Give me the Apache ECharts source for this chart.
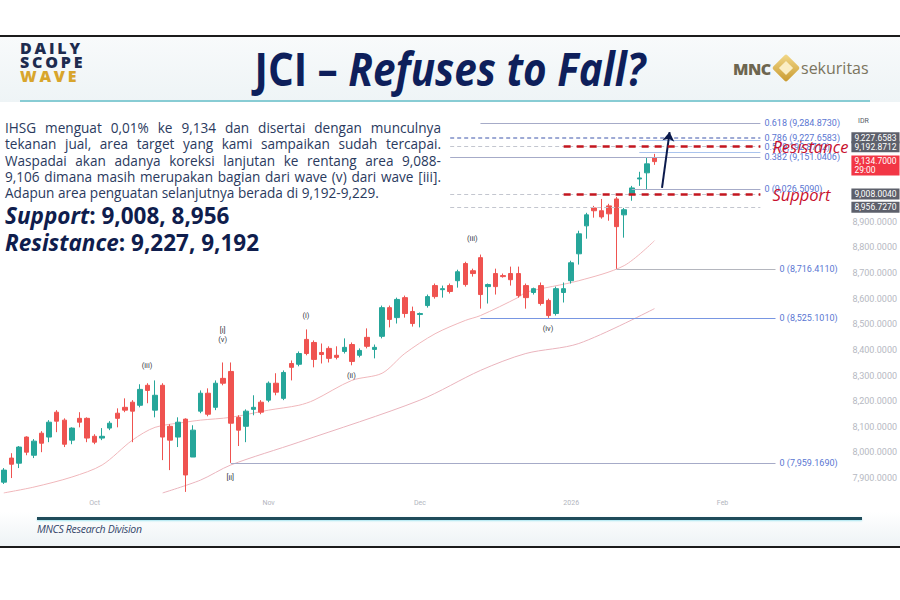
<!DOCTYPE html>
<html>
<head>
<meta charset="utf-8">
<script src="https://cdn.jsdelivr.net/npm/echarts@6/dist/echarts.min.js"></script>
<style>
  body { margin: 0; background: #fff; }
  #slide { position: relative; width: 900px; height: 600px; overflow: hidden; font-family: 'Open Sans', sans-serif; }
  .abs { position: absolute; }
  #chart { left: 0; top: 0; width: 900px; height: 600px; z-index: 2; }
  .ov { z-index: 3; pointer-events: none; }
  .para { left: 5px; width: 436px; font-size: 13.6px; line-height: 16.3px; height: 16.3px; color: #2a3a5e; white-space: nowrap; }
  .just { text-align: justify; text-align-last: justify; white-space: normal; }
  .big { left: 5px; font-size: 22.5px; font-weight: 700; color: #0f1d4d; line-height: 26px; white-space: nowrap; }
  .logo { left: 20px; font-weight: 800; font-size: 16px; letter-spacing: 2.8px; line-height: 14px; }
</style>
</head>
<body>
<div id="slide">
  <div class="abs" style="left:0;top:35px;width:900px;height:2px;background:#1b1b1b"></div>
  <div class="abs" style="left:0;top:37px;width:900px;height:65px;background:linear-gradient(#f8fafb,#eef4f6)"></div>
  <div class="abs" style="left:20px;top:100px;width:850px;height:2px;background:#88ccd4"></div>
  <div class="abs" style="left:0;top:512px;width:900px;height:34px;background:linear-gradient(#ffffff,#eef3f5)"></div>
  <div class="abs" style="left:37px;top:517px;width:825px;height:3px;background:#1f4b5a;box-shadow:0 1px 2px #a6e6f0"></div>
  <div class="abs" style="left:0;top:546px;width:900px;height:2px;background:#1b1b1b"></div>

  <div id="chart" class="abs"></div>

  <div class="abs logo ov" style="top:41px;color:#1d2b4f">DAILY</div>
  <div class="abs logo ov" style="top:55px;color:#1d2b4f">SCOPE</div>
  <div class="abs logo ov" style="top:69px;color:#d8a52c">WAVE</div>

  <div class="abs ov" style="left:0;top:45px;width:900px;text-align:center">
    <span id="title" style="display:inline-block;font-weight:700;font-size:47px;line-height:47px;color:#0e1f5b;white-space:nowrap;transform-origin:center">JCI – <i>Refuses to Fall?</i></span>
  </div>

  <div class="abs ov" style="left:733px;top:58px;font-weight:800;font-size:16px;color:#6d6650;letter-spacing:-0.5px">MNC</div>
  <div class="abs ov" style="left:776px;top:58px;width:20px;height:20px;transform:rotate(45deg);background:linear-gradient(135deg,#f3d98a,#c8992e);border-radius:2px"></div>
  <div class="abs ov" style="left:781px;top:63px;width:10px;height:10px;transform:rotate(45deg);background:#fbeec4"></div>
  <div class="abs ov" style="left:801px;top:57px;font-size:16px;color:#7b745e">sekuritas</div>

  <div class="abs para just ov" style="top:120px">IHSG menguat 0,01% ke 9,134 dan disertai dengan munculnya</div>
  <div class="abs para just ov" style="top:136.3px">tekanan jual, area target yang kami sampaikan sudah tercapai.</div>
  <div class="abs para just ov" style="top:152.6px">Waspadai akan adanya koreksi lanjutan ke rentang area 9,088-</div>
  <div class="abs para just ov" style="top:168.9px">9,106 dimana masih merupakan bagian dari wave (v) dari wave [iii].</div>
  <div class="abs para ov" style="top:185.2px">Adapun area penguatan selanjutnya berada di 9,192-9,229.</div>

  <div class="abs big ov" style="top:203px"><i>Support</i>: 9,008, 8,956</div>
  <div class="abs big ov" style="top:229.5px"><i>Resistance</i>: 9,227, 9,192</div>

  <div class="abs ov" style="left:37px;top:522px;font-size:10.5px;font-style:italic;color:#34466a;letter-spacing:-0.3px">MNCS Research Division</div>
</div>

<script>
// daily candles, mid Sep 2025 -> mid Jan 2026
const opens = [7884,7978,7958,8060,7989,8075,8060,8157,8126,8048,
  8133,8133,8063,8056,8095,8153,8176,8196,8184,8262,
  8165,8262,8102,8060,8130,7982,8161,8231,8176,8289,
  8316,8137,8102,8168,8196,8204,8270,8211,8347,8344,
  8441,8429,8390,8406,8379,8394,8421,8379,8449,8402,
  8453,8565,8526,8604,8550,8538,8573,8651,8635,8651,
  8670,8737,8709,8760,8647,8698,8690,8698,8698,8651,
  8624,8651,8593,8542,8624,8670,8775,8884,8954,8943,
  8962,8989,8927,9009,9067,9091,9149];
const closes = [7931,7954,8021,8001,8044,8036,8118,8122,8032,8095,
  8118,8056,8040,8063,8114,8133,8165,8161,8246,8242,
  8223,8060,8048,8118,7912,8087,8231,8149,8270,8270,
  8114,8087,8161,8176,8157,8270,8235,8312,8332,8386,
  8386,8363,8382,8367,8371,8410,8355,8398,8414,8410,
  8565,8519,8597,8542,8503,8542,8608,8608,8639,8628,
  8705,8655,8698,8616,8655,8647,8686,8674,8612,8604,
  8639,8581,8534,8639,8639,8740,8853,8927,8943,8919,
  8931,8881,8947,9032,9071,9126,9134.7];
const lows = [7877,7900,7939,7989,7978,8001,8040,8079,8021,8032,
  8098,8040,8032,8048,8087,8098,8157,8040,8176,8192,
  8137,7970,7931,8021,7846,7982,8153,8141,8165,8262,
  7959.169,8025,8040,8145,8149,8196,8223,8204,8281,8336,
  8379,8332,8347,8351,8363,8386,8340,8371,8406,8367,
  8445,8488,8503,8526,8491,8488,8565,8600,8604,8620,
  8643,8647,8686,8561,8581,8616,8682,8651,8604,8561,
  8616,8573,8525.101,8534,8585,8659,8733,8834,8916,8912,
  8904,8716.411,8838,8982,9040,9024,9122];
const highs = [7939,7997,8025,8063,8052,8083,8126,8165,8133,8098,
  8157,8137,8071,8095,8122,8172,8211,8204,8266,8270,
  8281,8270,8110,8137,8133,8106,8242,8250,8281,8351,
  8351,8145,8168,8223,8204,8277,8309,8320,8359,8394,
  8480,8437,8425,8414,8414,8445,8429,8406,8484,8421,
  8573,8573,8604,8612,8569,8546,8616,8659,8651,8659,
  8713,8744,8717,8772,8659,8717,8698,8725,8725,8659,
  8643,8663,8600,8647,8663,8748,8865,8935,8962,8989,
  8970,8997,8954,9040,9095,9149,9165];

// moving averages: [day index, value]
const maFast = [[0,7842],[4,7865],[9,7904],[13,7951],[17,8048],[20,8098],[24,8118],[26,8126],
  [30,8137],[35,8165],[39,8184],[41,8204],[46,8281],[50,8309],[53,8386],[57,8463],[61,8515],
  [63,8534],[68,8605],[69,8625],[76,8670],[82,8729],[86,8826]];
const maSlow = [[21,7842],[26,7892],[30,7951],[39,8040],[55,8204],[63,8320],[69,8386],[76,8425],[86,8561]];

// x axis: trading day slots (incl. empty future) and month ticks
const slotCount = 112;
const monthTickIdx = [12, 35, 55, 75, 95];
const monthTickText = ['Oct', 'Nov', 'Dec', '2026', 'Feb'];

// fibonacci levels (solid)
const fibValues = [7959.169, 8525.101, 8716.411, 9284.873, 9151.0406, 9026.509, 9218.2, 9170.4];
const fibText = ['0 (7,959.1690)', '0 (8,525.1010)', '0 (8,716.4110)', '0.618 (9,284.8730)',
  '0.382 (9,151.0406)', '0 (9,026.5090)', '', ''];
const fibFrom = [30, 63, 81, 63, 59, 83, 84, 84];
const fibTo = [102, 102, 102, 100, 100, 100, 100, 100];

// dashed levels with price tags
const levelValues = [9227.6583, 9192.8712, 9008.004, 8956.727];
const levelText = ['9,227.6583', '9,192.8712', '9,008.0040', '8,956.7270'];
const levelFib = ['0.786 (9,227.6583)', '0.5 (9,192.8712)', '', ''];
const resistance = 9192.8712;
const support = 9008.004;
const lastPrice = 9134.7;
const lastPriceText = '9,134.7000';
const countdown = '29:00';

// elliott wave labels
const waveText = ['(iii)', '[i]\n(v)', '[ii]', '(i)', '(ii)', '(iii)', '(iv)'];
const waveIdx = [19, 29, 30, 40, 46, 62, 72];
const waveAt = [8337, 8456, 7900, 8532, 8298, 8832, 8481];

const arrowFrom = [87, 9032];
const arrowTo = [88, 9250];

// ---- build
const title = document.getElementById('title');
title.style.transform = 'scaleX(' + (391 / title.offsetWidth) + ')';

const categories = Array.from({ length: slotCount }, (_, i) => String(i));
const candles = opens.map((o, i) => [o, closes[i], lows[i], highs[i]]);
const tickMap = {};
monthTickIdx.forEach((d, i) => { tickMap[d] = monthTickText[i]; });

const axisFont = 'Roboto';
const fibLabel = text => ({ show: text !== '', position: 'end', distance: 4, formatter: text, color: '#5a76d2', fontSize: 9, fontFamily: axisFont });
const fibColor = i => i === 1 ? '#7896e2' : (i === 2 ? '#b4b6be' : (i >= 6 ? '#aac4ee' : '#a6abc8'));
const fibLines = fibValues.map((v, i) => [
  { coord: [fibFrom[i], v], lineStyle: { color: fibColor(i), width: 1, type: 'solid' }, label: fibLabel(fibText[i]) },
  { coord: [fibTo[i], v] }
]);

const levelLines = levelValues.map((v, i) => [
  { coord: [59, v], lineStyle: { color: i === 0 ? '#7f8fc8' : '#c3c6cf', width: i === 0 ? 1.5 : 1, type: [4, 3] }, label: fibLabel(levelFib[i]) },
  { coord: [100, v] }
]);

const hidden = { color: 'rgba(0,0,0,0)', width: 0 };
const tags = levelValues.map((v, i) => ({
  yAxis: v,
  lineStyle: hidden,
  label: { show: true, position: 'end', distance: 4, formatter: levelText[i], color: '#ffffff', backgroundColor: '#5d606b', padding: [1, 3], fontSize: 8.5, fontFamily: axisFont }
}));
tags.push({
  yAxis: lastPrice,
  lineStyle: hidden,
  label: { show: true, position: 'end', distance: 4, formatter: lastPriceText + '\n' + countdown, color: '#ffffff', backgroundColor: '#f23645', padding: [1, 3], lineHeight: 9, fontSize: 8.5, fontFamily: axisFont, offset: [0, 4] }
});

const srStyle = { color: '#c3161f', width: 2.5, type: [7, 6] };
const srLabel = { show: true, position: 'end', distance: 12, color: '#c8102e', fontSize: 16.5, fontStyle: 'italic', fontFamily: 'Open Sans' };
const srLines = [
  [{ coord: [74, resistance], lineStyle: srStyle, label: Object.assign({ formatter: 'Resistance' }, srLabel) }, { coord: [100, resistance] }],
  [{ coord: [74, support], lineStyle: srStyle, label: Object.assign({ formatter: 'Support' }, srLabel) }, { coord: [100, support] }]
];

const waveLabel = { show: true, position: [0, 0], align: 'center', verticalAlign: 'middle', color: '#33363f', textBorderWidth: 0, textBorderColor: 'transparent', fontSize: 7.5, lineHeight: 9, fontFamily: axisFont };
const waveMarks = waveText.map((t, i) => ({
  name: t,
  coord: [waveIdx[i], waveAt[i]],
  itemStyle: { color: 'rgba(0,0,0,0)' },
  label: Object.assign({ formatter: t }, waveLabel)
}));

const option = {
  backgroundColor: 'transparent',
  animation: false,
  grid: { left: -1, right: 52, top: 109, bottom: 104 },
  xAxis: {
    type: 'category',
    data: categories,
    boundaryGap: true,
    axisLine: { show: false },
    axisTick: { show: false },
    splitLine: { show: false },
    axisLabel: { interval: 0, margin: 3, color: '#b2b5be', fontSize: 7, fontFamily: axisFont, formatter: (v, i) => tickMap[i] || '' }
  },
  yAxis: {
    type: 'value',
    position: 'right',
    min: 7830,
    max: 9340,
    splitNumber: 15,
    axisLine: { show: false },
    axisTick: { show: false },
    splitLine: { show: false },
    axisLabel: {
      margin: 5, color: '#b6b9c2', fontSize: 9, fontFamily: axisFont,
      showMinLabel: false, showMaxLabel: false,
      formatter: v => v >= 9000 ? '' : v.toLocaleString('en-US', { minimumFractionDigits: 4 })
    }
  },
  graphic: [
    { type: 'text', left: 858, top: 117, style: { text: 'IDR', fill: '#555a66', fontSize: 7, fontFamily: axisFont } }
  ],
  series: [
    {
      type: 'line',
      name: 'MA fast',
      data: maFast,
      symbol: 'none',
      smooth: 0.3,
      lineStyle: { color: '#f0b7bb', width: 1 },
      z: 1,
      markLine: { symbol: ['none', 'none'], silent: true, animation: false, data: fibLines.concat(levelLines) }
    },
    {
      type: 'line',
      name: 'MA slow',
      data: maSlow,
      symbol: 'none',
      smooth: 0.3,
      lineStyle: { color: '#eab4bd', width: 1 },
      z: 1,
      markLine: {
        symbol: ['none', 'arrow'], symbolSize: 9, silent: true, animation: false,
        data: [[{ coord: arrowFrom, lineStyle: { color: '#0b1a4c', width: 2, type: 'solid' }, label: { show: false } }, { coord: arrowTo }]]
      }
    },
    {
      type: 'candlestick',
      name: 'JCI',
      data: candles,
      barWidth: 5,
      z: 3,
      itemStyle: { color: '#26a69a', color0: '#ef5350', borderColor: '#26a69a', borderColor0: '#ef5350', borderWidth: 1 },
      markLine: { symbol: ['none', 'none'], silent: true, animation: false, data: srLines.concat(tags) },
      markPoint: {
        symbol: 'circle', symbolSize: 1, silent: true, animation: false,
        data: waveMarks
      }
    }
  ]
};

const chart = echarts.init(document.getElementById('chart'), null, { renderer: 'svg' });
chart.setOption(option);
</script>
</body>
</html>
